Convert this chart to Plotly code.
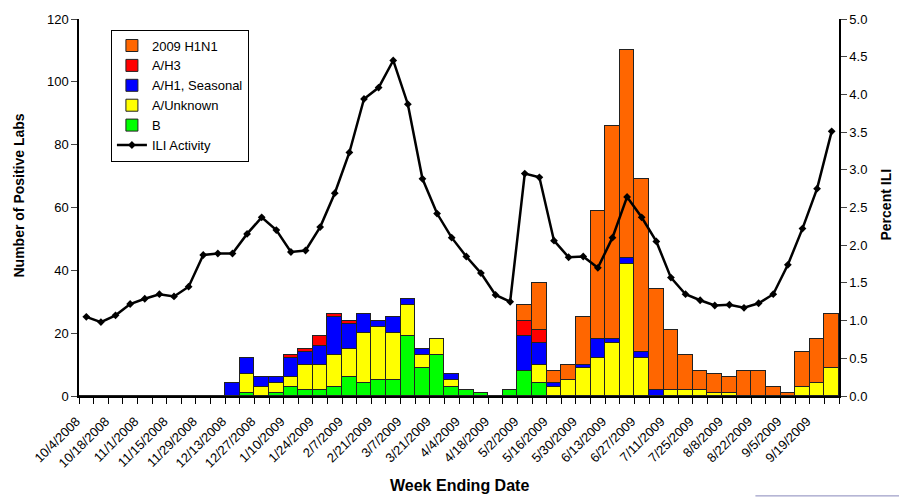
import plotly.graph_objects as go

weeks = ["10/4/2008", "10/11/2008", "10/18/2008", "10/25/2008", "11/1/2008", "11/8/2008",
         "11/15/2008", "11/22/2008", "11/29/2008", "12/6/2008", "12/13/2008", "12/20/2008",
         "12/27/2008", "1/3/2009", "1/10/2009", "1/17/2009", "1/24/2009", "1/31/2009",
         "2/7/2009", "2/14/2009", "2/21/2009", "2/28/2009", "3/7/2009", "3/14/2009",
         "3/21/2009", "3/28/2009", "4/4/2009", "4/11/2009", "4/18/2009", "4/25/2009",
         "5/2/2009", "5/9/2009", "5/16/2009", "5/23/2009", "5/30/2009", "6/6/2009",
         "6/13/2009", "6/20/2009", "6/27/2009", "7/4/2009", "7/11/2009", "7/18/2009",
         "7/25/2009", "8/1/2009", "8/8/2009", "8/15/2009", "8/22/2009", "8/29/2009",
         "9/5/2009", "9/12/2009", "9/19/2009", "9/26/2009"]

flu_b = [0, 0, 0, 0, 0, 0, 0, 0, 0, 0, 0, 1, 0, 1, 3, 2, 2, 3, 6, 4, 5, 5, 19, 9, 13, 3,
         2, 1, 0, 2, 8, 4, 0, 0, 0, 0, 0, 0, 0, 0, 0, 0, 0, 0, 0, 0, 0, 0, 0, 0, 0, 0]
a_unknown = [0, 0, 0, 0, 0, 0, 0, 0, 0, 0, 0, 6, 3, 3, 3, 8, 8, 10, 9, 16, 17, 15, 10, 4, 5, 2,
             0, 0, 0, 0, 0, 6, 3, 5, 9, 12, 17, 42, 12, 0, 2, 2, 2, 1, 1, 0, 0, 0, 0, 3, 4, 9]
a_h1_seasonal = [0, 0, 0, 0, 0, 0, 0, 0, 0, 0, 4, 5, 3, 2, 6, 4, 6, 12, 8, 6, 2, 5, 2, 2, 0, 2,
                 0, 0, 0, 0, 11, 7, 1, 0, 1, 6, 1, 2, 2, 2, 0, 0, 0, 0, 0, 0, 0, 0, 0, 0, 0, 0]
a_h3 = [0, 0, 0, 0, 0, 0, 0, 0, 0, 0, 0, 0, 0, 0, 1, 1, 3, 1, 1, 0, 0, 0, 0, 0, 0, 0,
        0, 0, 0, 0, 5, 4, 0, 0, 0, 0, 0, 0, 0, 0, 0, 0, 0, 0, 0, 0, 0, 0, 0, 0, 0, 0]
h1n1_2009 = [0, 0, 0, 0, 0, 0, 0, 0, 0, 0, 0, 0, 0, 0, 0, 0, 0, 0, 0, 0, 0, 0, 0, 0, 0, 0,
             0, 0, 0, 0, 5, 15, 4, 5, 15, 41, 68, 66, 55, 32, 19, 11, 6, 6, 5, 8, 8, 3, 1, 11, 14, 17]
ili_pct = [1.05, 0.98, 1.07, 1.22, 1.29, 1.35, 1.32, 1.45, 1.87, 1.89, 1.89, 2.15, 2.37,
           2.20, 1.91, 1.93, 2.24, 2.69, 3.23, 3.94, 4.09, 4.45, 3.87, 2.88, 2.42, 2.10,
           1.85, 1.63, 1.34, 1.25, 2.95, 2.90, 2.06, 1.84, 1.85, 1.70, 2.10, 2.64, 2.37,
           2.05, 1.57, 1.35, 1.27, 1.20, 1.21, 1.17, 1.23, 1.35, 1.74, 2.22, 2.75, 3.51]

left_ticks = [0, 20, 40, 60, 80, 100, 120]
right_ticks = [0.0, 0.5, 1.0, 1.5, 2.0, 2.5, 3.0, 3.5, 4.0, 4.5, 5.0]

FONT = "Liberation Sans, Arial, sans-serif"
xpos = list(range(len(weeks)))

fig = go.Figure()
bar_series = [
    ("B", flu_b, "#00FF00", 5),
    ("A/Unknown", a_unknown, "#FFFF00", 4),
    ("A/H1, Seasonal", a_h1_seasonal, "#0000FF", 3),
    ("A/H3", a_h3, "#FF0000", 2),
    ("2009 H1N1", h1n1_2009, "#FF6600", 1),
]
for name, vals, col, rank in bar_series:
    fig.add_trace(go.Bar(
        x=xpos, y=vals, name=name, legendrank=rank, legendgroup=name,
        marker=dict(color=col, line=dict(color="#222222", width=1)),
    ))

fig.add_trace(go.Scatter(
    x=xpos, y=ili_pct, name="ILI Activity", yaxis="y2", legendrank=6, legendgroup="ili",
    mode="lines+markers",
    line=dict(color="black", width=2.5),
    marker=dict(symbol="diamond", size=6, color="black"),
))

fig.update_layout(
    width=899, height=497,
    margin=dict(l=79, r=60, t=15, b=101),
    paper_bgcolor="white", plot_bgcolor="white",
    barmode="stack", bargap=0,
    font=dict(family=FONT, size=13, color="black"),
    showlegend=True,
    legend=dict(
        x=0.042, y=0.972, xanchor="left", yanchor="top",
        bgcolor="white", bordercolor="black", borderwidth=1,
        traceorder="normal", font=dict(size=13), tracegroupgap=1,
    ),
    xaxis=dict(
        range=[-0.5, len(weeks) - 0.5],
        tickvals=xpos[::2], ticktext=weeks[::2], tickangle=-45,
        ticks="", showline=True, linecolor="black", linewidth=1.5,
        showgrid=False, zeroline=False,
        ticklabelstandoff=11, ticklabelshift=-10,
        minor=dict(tick0=-0.5, dtick=1, ticks="outside", ticklen=6, tickcolor="black", showgrid=False),
        tickfont=dict(size=13),
    ),
    yaxis=dict(
        range=[0, 120], tickvals=left_ticks, ticks="outside", ticklen=6,
        showline=True, linecolor="black", linewidth=1.5, showgrid=False, zeroline=False,
        tickfont=dict(size=13),
    ),
    yaxis2=dict(
        range=[0, 5], tickvals=right_ticks, tickformat=".1f", overlaying="y", side="right",
        ticks="outside", ticklen=6, showline=True, linecolor="black", linewidth=1.5,
        showgrid=False, zeroline=False, tickfont=dict(size=13),
    ),
    annotations=[
        dict(text="<b>Number of Positive Labs</b>", x=0, xref="paper", xanchor="center", xshift=-61,
             y=0.5, yref="paper", yanchor="middle", yshift=12, textangle=-90, showarrow=False,
             font=dict(size=14)),
        dict(text="<b>Percent ILI</b>", x=1.0, xref="paper", xanchor="center", xshift=46,
             y=0.5, yref="paper", yanchor="middle", yshift=3, textangle=-90, showarrow=False,
             font=dict(size=14)),
        dict(text="<b>Week Ending Date</b>", x=0.5, xref="paper", xanchor="center", y=0, yref="paper",
             yanchor="middle", yshift=-89, showarrow=False, font=dict(size=16)),
    ],
    shapes=[
        dict(type="line", xref="paper", yref="paper", x0=0.89, x1=1.08, y0=-0.265, y1=-0.265,
             line=dict(color="#8888bb", width=1)),
    ],
)

fig.write_html("out.html", config={"displayModeBar": False},
               post_script="document.body.style.margin='0';document.body.style.padding='0';")
